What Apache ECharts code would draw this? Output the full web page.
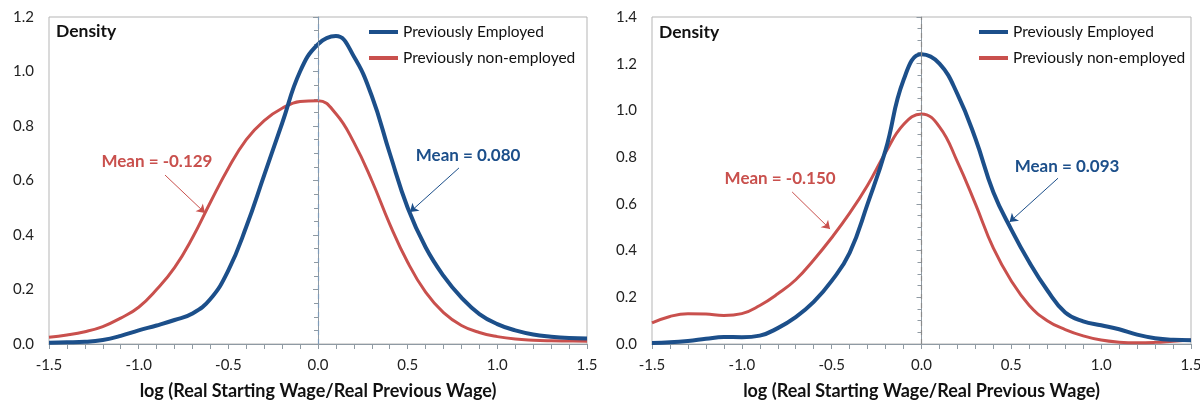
<!DOCTYPE html>
<html>
<head>
<meta charset="utf-8">
<script src="https://cdn.jsdelivr.net/npm/echarts@6/dist/echarts.min.js"></script>
<style>
html,body{margin:0;padding:0;background:#fff;}
#c{width:1200px;height:400px;}
</style>
</head>
<body>
<div id="c"></div>
<script>
// ---- data ----
const seriesNames = ['Previously Employed', 'Previously non-employed'];
const axisTitle = 'log (Real Starting Wage/Real Previous Wage)';

const xGrid = [-1.5,-1.4,-1.3,-1.2,-1.1,-1.0,-0.9,-0.8,-0.7,-0.6,-0.5,-0.4,-0.3,-0.2,-0.1,0.0,0.1,0.2,0.3,0.4,0.5,0.6,0.7,0.8,0.9,1.0,1.1,1.2,1.3,1.4,1.5];

const empLeft = [0.005,0.006,0.008,0.015,0.03,0.05,0.068,0.088,0.112,0.165,0.27,0.43,0.62,0.81,1.0,1.1,1.13,1.055,0.91,0.7,0.5,0.355,0.25,0.17,0.11,0.073,0.05,0.035,0.027,0.022,0.02];
const nonLeft = [0.025,0.033,0.045,0.064,0.095,0.135,0.2,0.28,0.39,0.52,0.645,0.75,0.82,0.865,0.89,0.893,0.845,0.74,0.6,0.44,0.3,0.19,0.115,0.068,0.042,0.027,0.018,0.014,0.012,0.011,0.01];

const empRight = [0.004,0.007,0.013,0.022,0.03,0.029,0.036,0.068,0.115,0.18,0.27,0.39,0.6,0.83,1.13,1.24,1.2,1.07,0.88,0.65,0.49,0.35,0.23,0.135,0.097,0.08,0.063,0.04,0.025,0.018,0.016];
const nonRight = [0.09,0.118,0.13,0.128,0.122,0.13,0.165,0.215,0.275,0.36,0.455,0.56,0.68,0.82,0.94,0.985,0.93,0.78,0.6,0.41,0.27,0.165,0.1,0.062,0.035,0.017,0.008,0.005,0.007,0.012,0.017];

const meanLabels = [['Mean = 0.080','Mean = -0.129'],['Mean = 0.093','Mean = -0.150']];
// annotation anchors in data units: [textX,textY,arrowStartX,arrowStartY,arrowEndX,arrowEndY]
const annEmp = [[0.837,0.69,0.786,0.646,0.513,0.484],[0.81,0.76,0.76,0.71,0.49,0.522]];
const annNon = [[-0.898,0.668,-0.853,0.62,-0.63,0.481],[-0.787,0.71,-0.72,0.651,-0.509,0.492]];
const yMax = [1.2, 1.4];

// ---- styling ----
const FONT = 'Lato, "Open Sans", sans-serif';
const BLUE = '#1c4f8a';
const RED = '#c9504d';
const AXC = '#8f9aa3';
const grids = [
  {left:49, top:17, width:538, height:327},
  {left:652, top:17, width:539, height:327}
];
function zip(xs, ys){ return xs.map((x,i)=>[x, ys[i]]); }

const xAxes = grids.map((g,i)=>({
  gridIndex:i, type:'value', min:-1.5, max:1.5, interval:0.5,
  axisLine:{show:true, onZero:false, lineStyle:{color:AXC, width:1}},
  axisTick:{show:true, inside:false, length:5, lineStyle:{color:AXC}},
  minorTick:{show:true, splitNumber:5, length:5, lineStyle:{color:AXC}},
  splitLine:{show:false},
  axisLabel:{show:true, showMinLabel:true, showMaxLabel:true, formatter:v=>v.toFixed(1), fontFamily:FONT, fontSize:15, color:'#222', margin:14},
  name:axisTitle, nameLocation:'middle', nameGap:38,
  nameTextStyle:{fontFamily:FONT, fontSize:18, fontWeight:'bold', color:'#111'}
}));
const yAxes = grids.map((g,i)=>({
  gridIndex:i, type:'value', min:0, max:yMax[i], interval:0.2,
  axisLine:{show:true, lineStyle:{color:AXC, width:1}},
  axisTick:{show:true, inside:false, length:5, lineStyle:{color:AXC}},
  minorTick:{show:true, splitNumber:4, length:4, lineStyle:{color:AXC}},
  splitLine:{show:false},
  axisLabel:{formatter:v=>v.toFixed(1), fontFamily:FONT, fontSize:15, color:'#222', margin:15}
}));

function meanPoint(ann, label, color){
  return {coord:[ann[0], ann[1]], label:{show:true, position:'inside', formatter:label, fontFamily:FONT, fontSize:17, fontWeight:'bold', color:color}};
}

const series = [];
const emps = [empLeft, empRight];
const nons = [nonLeft, nonRight];
const dashColor = ['#7f9bb8', '#8a8a8a'];
for (let i=0;i<2;i++){
  series.push({
    name:seriesNames[1], type:'line', xAxisIndex:i, yAxisIndex:i, data:zip(xGrid, nons[i]),
    smooth:0.45, showSymbol:false, symbol:'none', lineStyle:{color:RED, width:3}, itemStyle:{color:RED}, z:3,
    markLine:{
      silent:true, animation:false, symbol:['none','arrow'], symbolSize:[8,8],
      label:{show:false},
      data:[
        [{coord:[annNon[i][2],annNon[i][3]], lineStyle:{color:RED, width:1, type:'solid'}},{coord:[annNon[i][4],annNon[i][5]]}],
        [{coord:[annEmp[i][2],annEmp[i][3]], lineStyle:{color:BLUE, width:1, type:'solid'}},{coord:[annEmp[i][4],annEmp[i][5]]}]
      ]
    },
    markPoint:{
      silent:true, animation:false,
      symbol:'rect', symbolSize:1, itemStyle:{color:'rgba(0,0,0,0)'},
      data:[meanPoint(annNon[i], meanLabels[i][1], RED), meanPoint(annEmp[i], meanLabels[i][0], BLUE)]
    }
  });
  series.push({
    name:seriesNames[0], type:'line', xAxisIndex:i, yAxisIndex:i, data:zip(xGrid, emps[i]),
    smooth:0.45, showSymbol:false, symbol:'none', lineStyle:{color:BLUE, width:4}, itemStyle:{color:BLUE}, z:4,
    markLine:{
      silent:true, animation:false, symbol:['none','none'],
      label:{show:false},
      lineStyle:{color:dashColor[i], width:1.2, type:[5,4]},
      data:[{xAxis:0, lineStyle:{color:dashColor[i], width:1.2, type:[5,4]}}]
    }
  });
}

const legends = [{left:369, top:24}, {left:979, top:24}].map(p=>({
  left:p.left, top:p.top, padding:0, orient:'vertical', itemGap:10, itemWidth:29, itemHeight:4, icon:'rect',
  data:seriesNames, selectedMode:false,
  textStyle:{fontFamily:FONT, fontSize:15.5, color:'#111', lineHeight:16}
}));

const chart = echarts.init(document.getElementById('c'), null, {renderer:'canvas'});
chart.setOption({
  animation:false,
  backgroundColor:'#fff',
  grid:grids.map(g=>Object.assign({show:true, borderColor:'#b5b5b5', borderWidth:1, containLabel:false, outerBoundsMode:'none'}, g)),
  xAxis:xAxes, yAxis:yAxes,
  legend:legends,
  series:series,
  graphic:[
    {type:'text', left:56, top:22, style:{text:'Density', font:'bold 17.5px '+FONT, fill:'#111'}},
    {type:'text', left:659, top:23, style:{text:'Density', font:'bold 17.5px '+FONT, fill:'#111'}}
  ]
});
</script>
</body>
</html>
